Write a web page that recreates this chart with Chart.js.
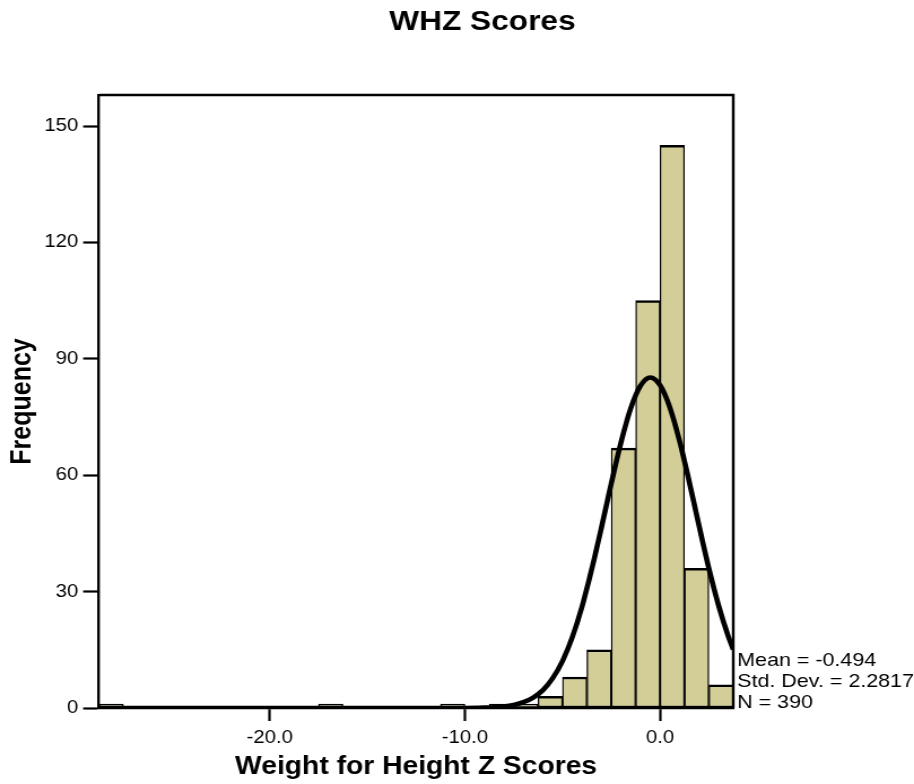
<!DOCTYPE html>
<html>
<head>
<meta charset="utf-8">
<script src="https://cdn.jsdelivr.net/npm/chart.js@4.4.1/dist/chart.umd.min.js"></script>
<style>
  html, body { margin: 0; padding: 0; background: #ffffff; }
  #wrap { width: 809px; height: 784px; transform: scaleX(1.12979); transform-origin: 0 0; }
  canvas { display: block; }
</style>
</head>
<body>
<div id="wrap"><canvas id="c" width="809" height="784"></canvas></div>
<script>
// ---- Data ----
const titleText = 'WHZ Scores';
const xTitle = 'Weight for Height Z Scores';
const yTitle = 'Frequency';
const statsLines = ['Mean = -0.494', 'Std. Dev. = 2.2817', 'N = 390'];

// histogram bins (bin centres, bin width 1.25) and counts
const binCenters = [-28.125, -16.875, -10.625, -8.125, -6.875, -5.625, -4.375, -3.125, -1.875, -0.625, 0.625, 1.875, 3.125];
const frequencies = [1, 1, 1, 1, 1, 3, 8, 15, 67, 105, 145, 36, 6];

// normal curve
const curveX = [-28.75, -12, -10, -9, -8.5, -8, -7.5, -7, -6.5, -6, -5.5, -5, -4.5, -4, -3.5, -3, -2.5, -2, -1.5, -1, -0.5, 0, 0.5, 1, 1.5, 2, 2.5, 3, 3.5, 3.75];
const curveY = [0, 0, 0, 0.1, 0.2, 0.4, 0.8, 1.5, 2.7, 4.6, 7.7, 12.1, 18.2, 26.1, 35.8, 46.6, 57.9, 68.5, 77.3, 83.1, 85.2, 83.2, 77.5, 68.8, 58.2, 46.9, 36.0, 26.4, 18.4, 15.1];

// axes
const xMin = -28.75, xMax = 3.75;
const xTickValues = [-20, -10, 0];
const xTickLabels = ['-20.0', '-10.0', '0.0'];
const yMin = 0, yMax = 158, yStep = 30;

const FONT = '"Liberation Sans", Arial, Helvetica, sans-serif';

const textPlugin = {
  id: 'textPlugin',
  afterDraw(chart) {
    const ctx = chart.ctx;
    const a = chart.chartArea;
    ctx.save();
    // frame (top and right)
    ctx.strokeStyle = '#000';
    ctx.lineWidth = 2.4;
    ctx.beginPath();
    ctx.moveTo(a.left, a.top);
    ctx.lineTo(a.right, a.top);
    ctx.lineTo(a.right, a.bottom);
    ctx.stroke();
    // title
    ctx.fillStyle = '#000';
    ctx.font = 'bold 28px ' + FONT;
    ctx.textAlign = 'center';
    ctx.textBaseline = 'alphabetic';
    ctx.fillText(titleText, 427, 30);
    // stats
    ctx.font = '19px ' + FONT;
    ctx.textAlign = 'left';
    statsLines.forEach((s, i) => ctx.fillText(s, a.right + 3.5, 666 + i * 21));
    ctx.restore();
  }
};

new Chart(document.getElementById('c'), {
  type: 'bar',
  data: {
    datasets: [
      {
        type: 'line',
        data: curveX.map((x, i) => ({ x: x, y: curveY[i] })),
        borderColor: '#000000',
        borderWidth: 4.6,
        pointRadius: 0,
        fill: false,
        cubicInterpolationMode: 'monotone',
        order: 0
      },
      {
        type: 'bar',
        data: binCenters.map((x, i) => ({ x: x, y: frequencies[i] })),
        backgroundColor: 'rgb(211,206,152)',
        borderColor: '#000000',
        borderWidth: { top: 2.5, left: 1.35, right: 1.35, bottom: 2 },
        borderSkipped: false,
        barPercentage: 1,
        categoryPercentage: 1,
        order: 1
      }
    ]
  },
  options: {
    responsive: false,
    devicePixelRatio: 1,
    animation: false,
    layout: { padding: { top: 95, right: 160, left: 0, bottom: 0 } },
    plugins: { legend: { display: false }, tooltip: { enabled: false }, title: { display: false } },
    scales: {
      x: {
        type: 'linear',
        min: xMin,
        max: xMax,
        offset: false,
        grid: { offset: false, drawOnChartArea: false, drawTicks: true, tickLength: 13, tickColor: '#000', tickWidth: 2.2, color: '#000' },
        border: { display: true, color: '#000', width: 3.2 },
        afterBuildTicks(scale) { scale.ticks = xTickValues.map(v => ({ value: v })); },
        afterFit(scale) { scale.height = 76; },
        ticks: {
          autoSkip: false, maxRotation: 0, padding: 6,
          color: '#000', font: { family: FONT, size: 18 },
          callback: (v, i) => xTickLabels[i]
        },
        title: { display: true, text: xTitle, color: '#000', font: { family: FONT, size: 25, weight: 'bold' }, padding: { top: 0, bottom: 2 } }
      },
      y: {
        min: yMin,
        max: yMax,
        grid: { drawOnChartArea: false, drawTicks: true, tickLength: 14, tickColor: '#000', tickWidth: 2.2, color: '#000' },
        border: { display: true, color: '#000', width: 2.4 },
        afterFit(scale) { scale.width = 87.6; },
        ticks: { stepSize: yStep, includeBounds: false, padding: 4.3, color: '#000', font: { family: FONT, size: 18 } },
        title: { display: true, text: yTitle, color: '#000', font: { family: FONT, size: 25, weight: 'bold' }, padding: { top: 5, bottom: 0 } }
      }
    }
  },
  plugins: [textPlugin]
});
</script>
</body>
</html>
